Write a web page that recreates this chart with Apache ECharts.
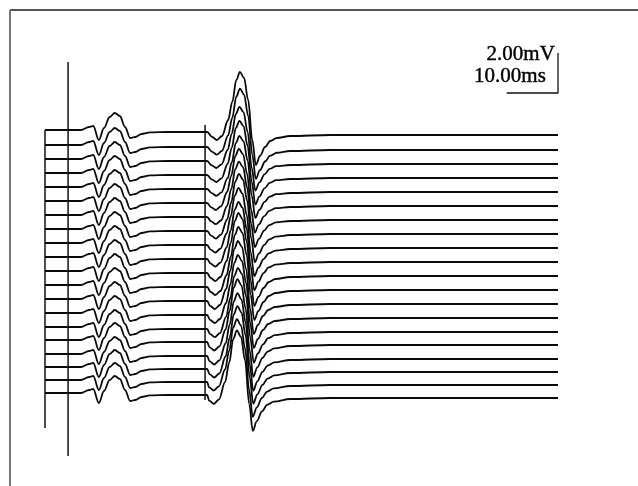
<!DOCTYPE html>
<html>
<head>
<meta charset="utf-8">
<script src="https://cdn.jsdelivr.net/npm/echarts@6/dist/echarts.min.js"></script>
<style>html,body{margin:0;padding:0;background:#fff;}#chart{width:638px;height:486px;}</style>
</head>
<body>
<div id="chart"></div>
<script>
const timeMs = [0, 7.0, 8.6, 9.4, 10.5, 11.5, 12.6, 13.6, 14.6, 15.6, 16.6, 17.6, 18.8, 20.5, 24, 31.2,
  31.6, 32.6, 33.5, 34.5, 35.7, 36.5, 37.3, 38.0, 38.8, 39.6, 40.4, 41.1, 41.9, 42.9, 43.9, 45.2, 47.8, 55.6, 100];
// Waveform of the top trace (mV relative to its baseline)
const waveMv = [0, 0, 0.15, 0.2, -0.5, 0.1, 0.65, 0.85, 0.7, 0.15, -0.4, -0.35, -0.2, -0.12, -0.1, -0.1,
  -0.1, -0.35, -0.5, -0.3, 0.5, 1.4, 2.5, 2.9, 2.6, 1.5, -0.5, -1.75, -1.3, -0.85, -0.55, -0.4, -0.3, -0.25, -0.25];
// Baseline of each of the 20 sweeps (mV)
const baselines = [0, -0.75, -1.45, -2.15, -2.85, -3.55, -4.25, -4.95, -5.65, -6.35,
  -7.05, -7.75, -8.45, -9.15, -9.85, -10.5, -11.2, -11.85, -12.5, -13.15];
// Relative size of the late response on each sweep
const lateAmp = [1.0, 0.97, 0.9, 0.9, 0.88, 0.9, 0.92, 0.95, 0.95, 0.95,
  1.0, 1.0, 1.0, 1.0, 1.02, 1.05, 1.05, 1.05, 1.05, 1.08];
// Latency shift of the late response on each sweep (ms)
const lateShift = [0, 0, -0.1, -0.1, -0.1, -0.2, -0.2, -0.2, -0.3, -0.3,
  -0.3, -0.3, -0.4, -0.4, -0.4, -0.5, -0.5, -0.5, -0.6, -0.6];
// Vertical cursor lines: [time ms, top mV, bottom mV]
const cursors = [[0, 0, -14.9], [4.5, 3.4, -16.3], [31.2, 0.25, -13.5]];
// Calibration bar: 2.00 mV, 10.00 ms
const calTime = [90, 100, 100];
const calMv = [1.85, 1.85, 3.85];
const calLabels = ['2.00mV', '10.00ms'];

const series = [];
baselines.forEach((b, k) => {
  const data = timeMs.map((t, i) => {
    const late = t >= 32.6 && t <= 45.2;
    const tt = late ? t + lateShift[k] : t;
    const v = late ? waveMv[i] * lateAmp[k] : waveMv[i];
    return [tt, b + v];
  });
  series.push({
    type: 'line', data, showSymbol: false, smooth: 0.35, smoothMonotone: 'x',
    lineStyle: { color: '#0a0a0a', width: 1.8 }, silent: true, animation: false
  });
});
cursors.forEach(c => {
  series.push({
    type: 'line', data: [[c[0], c[1]], [c[0], c[2]]], showSymbol: false,
    lineStyle: { color: '#111', width: 1.5 }, silent: true, animation: false
  });
});
series.push({
  type: 'line', data: calTime.map((t, i) => [t, calMv[i]]), showSymbol: false,
  lineStyle: { color: '#111', width: 1.3 }, silent: true, animation: false
});

const chart = echarts.init(document.getElementById('chart'), null, { renderer: 'canvas' });
chart.setOption({
  backgroundColor: '#fff',
  animation: false,
  grid: { left: 45, right: 80, top: 10, bottom: 6 },
  xAxis: { type: 'value', min: 0, max: 100, show: false },
  yAxis: { type: 'value', min: -17.5, max: 6, show: false },
  series,
  graphic: [
    { type: 'line', shape: { x1: 10, y1: 10, x2: 638, y2: 10 }, style: { stroke: '#555', lineWidth: 2 } },
    { type: 'line', shape: { x1: 10, y1: 10, x2: 10, y2: 486 }, style: { stroke: '#777', lineWidth: 2 } },
    { type: 'text', right: 83, top: 44, style: { text: calLabels[0], font: '21px "Liberation Serif"', fill: '#000', stroke: '#000', lineWidth: 0.4 } },
    { type: 'text', right: 92, top: 66, style: { text: calLabels[1], font: '21px "Liberation Serif"', fill: '#000', stroke: '#000', lineWidth: 0.4 } }
  ]
});
</script>
</body>
</html>
